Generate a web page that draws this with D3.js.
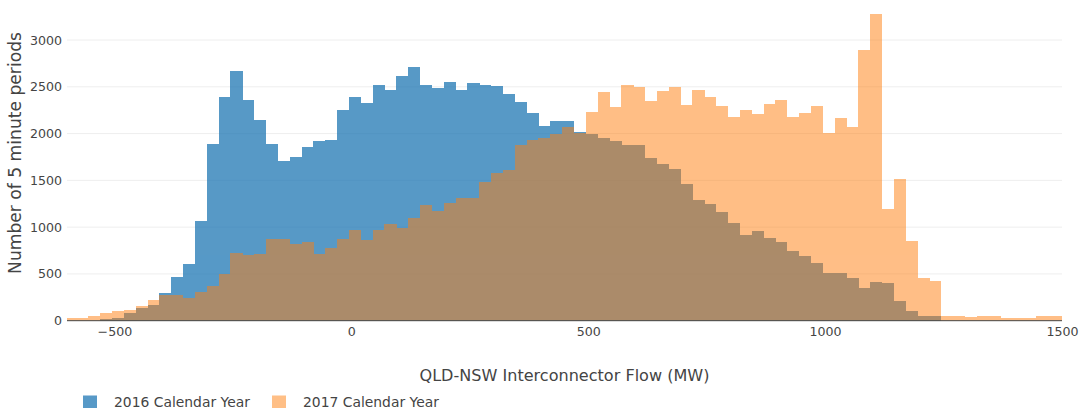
<!DOCTYPE html>
<html>
<head>
<meta charset="utf-8">
<script src="https://cdn.jsdelivr.net/npm/d3@7"></script>
<style>
  html, body { margin: 0; padding: 0; background: #fff; }
  svg { display: block; }
  text { font-family: "DejaVu Sans", Verdana, sans-serif; fill: #444; }
</style>
</head>
<body>
<svg id="chart" width="1083" height="412"></svg>
<script>
// ---- data (bin counts, 25 MW bins, first bin starts at -605 MW) ----
const binStart = -605;
const binWidth = 25;
const series2016 = [0,0,0,21,30,86,135,164,292,470,602,1065,1885,2391,2672,2355,2145,1885,1703,1753,1860,1924,1931,2248,2391,2327,2523,2466,2612,2711,2516,2491,2548,2466,2537,2516,2512,2423,2341,2216,2077,2130,2130,2015,1996,1950,1925,1875,1875,1739,1679,1625,1461,1286,1250,1159,1043,921,961,886,839,743,689,614,514,514,454,346,418,402,207,100,50,50,0,0,0,0,0,0,0,0,0,0,0];
const series2017 = [30,32,50,80,100,110,157,221,278,280,246,306,372,502,723,702,716,869,873,823,837,716,773,873,969,862,969,1033,987,1094,1233,1169,1258,1315,1315,1479,1575,1610,1874,1931,1953,1995,2067,2002,2228,2447,2280,2517,2493,2350,2454,2493,2304,2468,2396,2296,2182,2254,2207,2321,2354,2175,2221,2296,2007,2171,2075,2889,3278,1193,1511,850,454,425,50,50,36,50,50,32,32,32,50,50,45];
const seriesNames = ["2016 Calendar Year", "2017 Calendar Year"];
const seriesColors = ["#1f77b4", "#ff7f0e"];
const seriesOpacity = [0.75, 0.5];
const xTicks = [-500, 0, 500, 1000, 1500];
const yTicks = [0, 500, 1000, 1500, 2000, 2500, 3000];
const xDomain = [-600, 1500];
const xTitle = "QLD-NSW Interconnector Flow (MW)";
const yTitle = "Number of 5 minute periods";

// ---- layout ----
const svg = d3.select("#chart");
const plot = { left: 67, right: 1062, top: 0, bottom: 320.7 };

const x = d3.scaleLinear().domain(xDomain).range([plot.left, plot.right]);
const y = d3.scaleLinear().domain([0, 3000]).range([plot.bottom, 40]);

// fit a text element's font size so that it spans a target width
function fitWidth(sel, target) {
  const node = sel.node();
  const w = node.getComputedTextLength();
  const fs = parseFloat(sel.attr("font-size"));
  if (w > 0) sel.attr("font-size", (fs * target / w).toFixed(2));
}

svg.append("defs").append("clipPath").attr("id", "clip")
  .append("rect")
  .attr("x", plot.left).attr("y", plot.top)
  .attr("width", plot.right - plot.left).attr("height", plot.bottom - plot.top);

// gridlines
svg.append("g").selectAll("line").data(yTicks.filter(d => d !== 0)).join("line")
  .attr("x1", plot.left).attr("x2", plot.right)
  .attr("y1", d => y(d)).attr("y2", d => y(d))
  .attr("stroke", "#eee").attr("stroke-width", 1);

// bars
const seriesData = [series2016, series2017];
seriesData.forEach((vals, si) => {
  const bins = vals.map((v, i) => ({ x0: binStart + i * binWidth, x1: binStart + (i + 1) * binWidth, v }));
  svg.append("g")
    .attr("clip-path", "url(#clip)")
    .attr("opacity", seriesOpacity[si])
    .attr("shape-rendering", "crispEdges")
    .selectAll("rect").data(bins.filter(b => b.v > 0)).join("rect")
    .attr("x", b => x(b.x0))
    .attr("width", b => x(b.x1) - x(b.x0) + 0.3)
    .attr("y", b => y(b.v))
    .attr("height", b => y(0) - y(b.v))
    .attr("fill", seriesColors[si]);
});

// zero line
svg.append("line")
  .attr("x1", plot.left).attr("x2", plot.right)
  .attr("y1", y(0)).attr("y2", y(0))
  .attr("stroke", "#444").attr("stroke-width", 1);

// y tick labels
const yAxis = d3.axisLeft(y).tickValues(yTicks).tickSize(0).tickPadding(4).tickFormat(d3.format("d"));
const yg = svg.append("g").attr("transform", `translate(${plot.left - 1},0)`).call(yAxis);
yg.select(".domain").remove();
yg.selectAll("text").attr("font-size", 12.6).attr("fill", "#444")
  .attr("font-family", '"DejaVu Sans", Verdana, sans-serif');

// x tick labels
const xAxis = d3.axisBottom(x).tickValues(xTicks).tickSize(0).tickPadding(6)
  .tickFormat(d => d < 0 ? "\u2212" + Math.abs(d) : String(d));
const xg = svg.append("g").attr("transform", `translate(0,${plot.bottom})`).call(xAxis);
xg.select(".domain").remove();
xg.selectAll("text").attr("font-size", 12.6).attr("fill", "#444")
  .attr("font-family", '"DejaVu Sans", Verdana, sans-serif');

// axis titles
const xt = svg.append("text")
  .attr("x", (plot.left + plot.right) / 2).attr("y", 381)
  .attr("text-anchor", "middle").attr("font-size", 16)
  .text(xTitle);
fitWidth(xt, 290);
const yt = svg.append("text")
  .attr("transform", "translate(21,153) rotate(-90)")
  .attr("text-anchor", "middle").attr("font-size", 15)
  .text(yTitle);
fitWidth(yt, 242);

// legend
const legendX = [83, 272];
seriesNames.forEach((name, i) => {
  const g = svg.append("g").attr("transform", `translate(${legendX[i]},395.5)`);
  g.append("rect").attr("x", 0).attr("y", 0).attr("width", 14).attr("height", 12.5)
    .attr("fill", seriesColors[i]).attr("opacity", seriesOpacity[i]);
  const t = g.append("text").attr("x", 31).attr("y", 11.5).attr("font-size", 13).text(name);
  fitWidth(t, 136);
});
</script>
</body>
</html>
